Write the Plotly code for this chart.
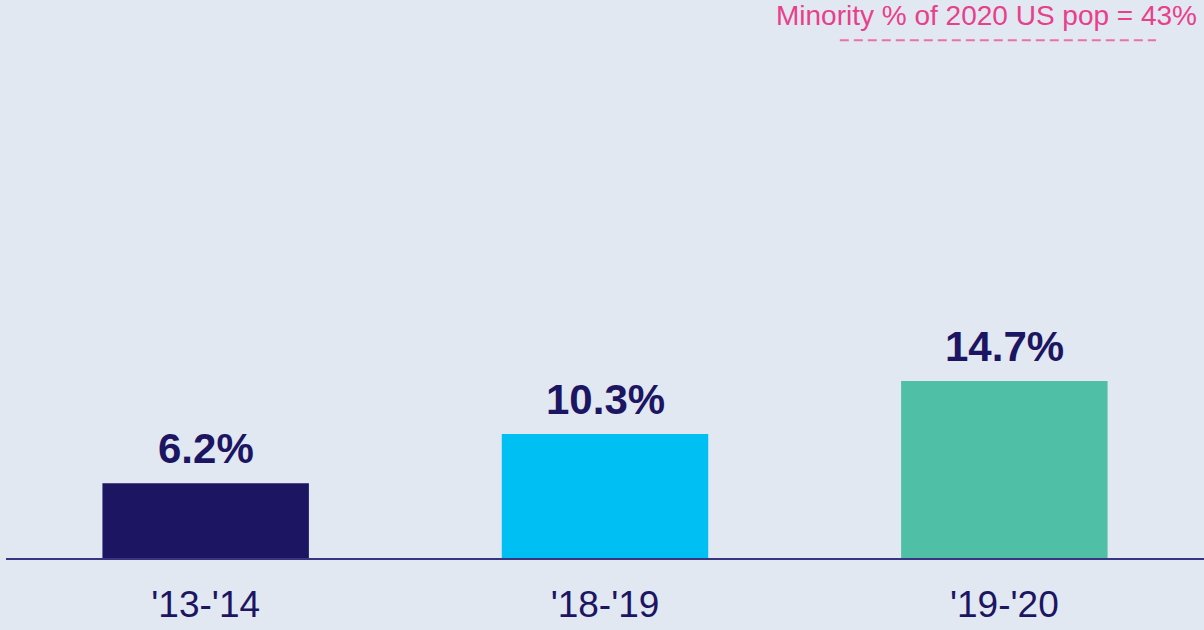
import plotly.graph_objects as go

categories = ["'13-'14", "'18-'19", "'19-'20"]
values = [6.2, 10.3, 14.7]
labels = ["6.2%", "10.3%", "14.7%"]
bar_colors = ["#1C1562", "#00BFF3", "#4FBFA5"]
reference_value = 43
reference_label = "Minority % of 2020 US pop = 43%"

BG = "#E1E8F2"
NAVY = "#1C1562"
PINK = "#E8408A"
FONT = "Liberation Sans, Arial, sans-serif"

fig = go.Figure()
fig.add_trace(go.Bar(
    x=categories, y=values,
    marker=dict(color=bar_colors, line=dict(width=0)),
    width=0.517,
    hoverinfo="skip",
))

for c, v, t in zip(categories, values, labels):
    fig.add_annotation(
        x=c, y=v, text=f"<b>{t}</b>", showarrow=False,
        xref="x", yref="y", yanchor="bottom", yshift=9,
        font=dict(family=FONT, size=42, color=NAVY),
    )

fig.add_shape(
    type="line", xref="paper", yref="y",
    x0=0.696, x1=0.96, y0=reference_value, y1=reference_value,
    line=dict(color="#EE6FA5", width=2, dash="9px,5px"),
)
fig.add_annotation(
    xref="paper", yref="paper", x=1, y=1, xanchor="right", yanchor="top",
    xshift=-5, yshift=2, text=reference_label, showarrow=False,
    font=dict(family=FONT, size=28, color=PINK),
)

fig.update_layout(
    width=1204, height=630,
    margin=dict(l=6, r=0, t=0, b=72),
    paper_bgcolor=BG, plot_bgcolor=BG,
    showlegend=False,
    xaxis=dict(
        range=[-0.5, 2.5], showgrid=False, zeroline=False,
        showline=True, linecolor="#3A3580", linewidth=2,
        ticks="", tickfont=dict(family=FONT, size=37, color=NAVY),
        ticklabelstandoff=13,
        fixedrange=True,
    ),
    yaxis=dict(
        range=[0, 46.35], showgrid=False, zeroline=False,
        showticklabels=False, showline=False, fixedrange=True,
    ),
)

fig.write_html(
    "out.html",
    config={"displayModeBar": False},
    post_script="document.body.style.margin='0';document.body.style.background='" + BG + "';",
)
